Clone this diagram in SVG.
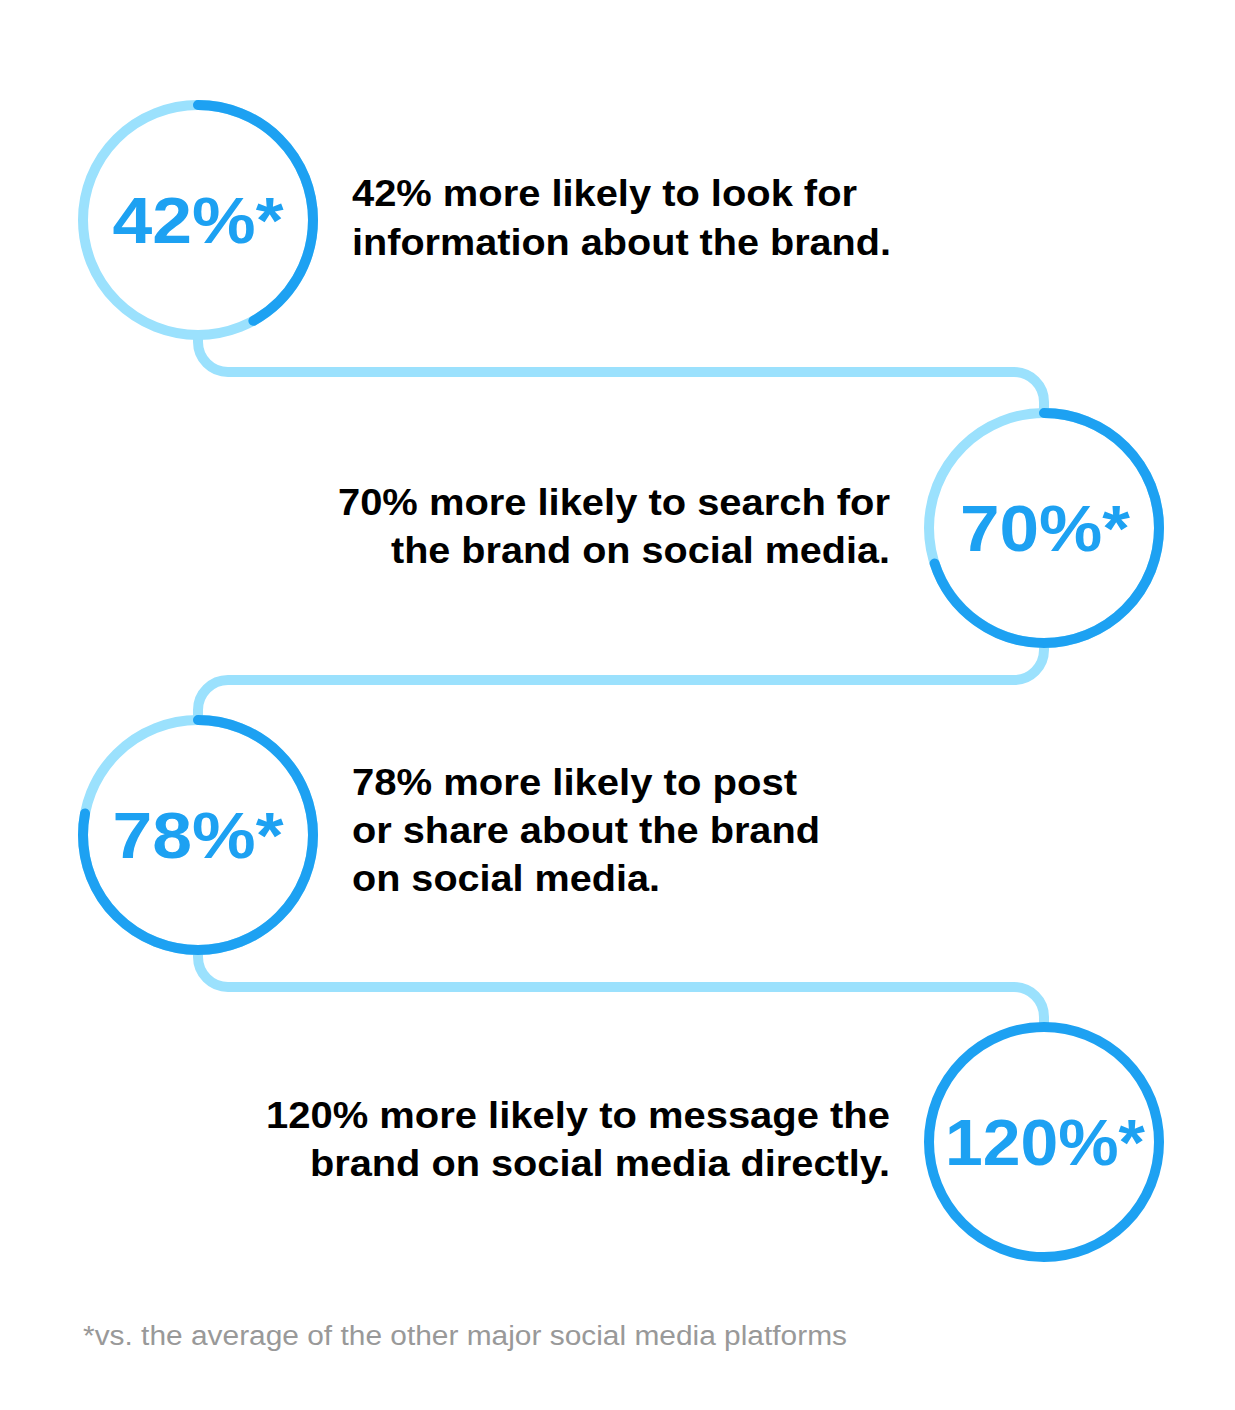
<svg xmlns="http://www.w3.org/2000/svg" width="1235" height="1410" viewBox="0 0 1235 1410">
<style>
.bg{fill:none;stroke:#9be1fd;stroke-width:10}
.fg{fill:none;stroke:#1da1f2;stroke-width:10;stroke-linecap:round}
.pct{font-family:"Liberation Sans",Arial,sans-serif;font-weight:bold;font-size:64px;fill:#1da1f2;text-anchor:middle}
.t{font-family:"Liberation Sans",Arial,sans-serif;font-weight:bold;font-size:36px;fill:#000}
.r{text-anchor:end}
.foot{font-family:"Liberation Sans",Arial,sans-serif;font-size:27px;fill:#999}
</style>
<rect width="1235" height="1410" fill="#fff"/>
<g id="connectors" fill="none" stroke="#9be1fd" stroke-width="10">
<path d="M198 335 V342 A30 30 0 0 0 228 372 H1014 A30 30 0 0 1 1044 402 V413"/>
<path d="M1044 643 V650 A30 30 0 0 1 1014 680 H228 A30 30 0 0 0 198 710 V720"/>
<path d="M198 950 V957 A30 30 0 0 0 228 987 H1014 A30 30 0 0 1 1044 1017 V1027"/>
</g>
<g id="n1">
<circle class="bg" cx="198" cy="220" r="115"/>
<circle class="fg" cx="198" cy="220" r="115" pathLength="100" stroke-dasharray="42 100" transform="rotate(-90 198 220)"/>
<text class="pct" x="198" y="243" textLength="171" lengthAdjust="spacingAndGlyphs">42%*</text>
<text class="t" x="352" y="206" textLength="505" lengthAdjust="spacingAndGlyphs">42% more likely to look for</text>
<text class="t" x="352" y="255" textLength="539" lengthAdjust="spacingAndGlyphs">information about the brand.</text>
</g>
<g id="n2">
<circle class="bg" cx="1044" cy="528" r="115"/>
<circle class="fg" cx="1044" cy="528" r="115" pathLength="100" stroke-dasharray="70 100" transform="rotate(-90 1044 528)"/>
<text class="pct" x="1045" y="551" textLength="170" lengthAdjust="spacingAndGlyphs">70%*</text>
<text class="t r" x="890" y="515" textLength="552" lengthAdjust="spacingAndGlyphs">70% more likely to search for</text>
<text class="t r" x="890" y="563" textLength="499" lengthAdjust="spacingAndGlyphs">the brand on social media.</text>
</g>
<g id="n3">
<circle class="bg" cx="198" cy="835" r="115"/>
<circle class="fg" cx="198" cy="835" r="115" pathLength="100" stroke-dasharray="78 100" transform="rotate(-90 198 835)"/>
<text class="pct" x="198" y="858" textLength="171" lengthAdjust="spacingAndGlyphs">78%*</text>
<text class="t" x="352" y="795" textLength="445" lengthAdjust="spacingAndGlyphs">78% more likely to post</text>
<text class="t" x="352" y="843" textLength="468" lengthAdjust="spacingAndGlyphs">or share about the brand</text>
<text class="t" x="352" y="891" textLength="308" lengthAdjust="spacingAndGlyphs">on social media.</text>
</g>
<g id="n4">
<circle class="fg" cx="1044" cy="1142" r="115"/>
<text class="pct" x="1045" y="1165" textLength="200" lengthAdjust="spacingAndGlyphs">120%*</text>
<text class="t r" x="890" y="1128" textLength="624" lengthAdjust="spacingAndGlyphs">120% more likely to message the</text>
<text class="t r" x="890" y="1176" textLength="580" lengthAdjust="spacingAndGlyphs">brand on social media directly.</text>
</g>
<text class="foot" x="83" y="1345" textLength="764" lengthAdjust="spacingAndGlyphs">*vs. the average of the other major social media platforms</text>
</svg>
